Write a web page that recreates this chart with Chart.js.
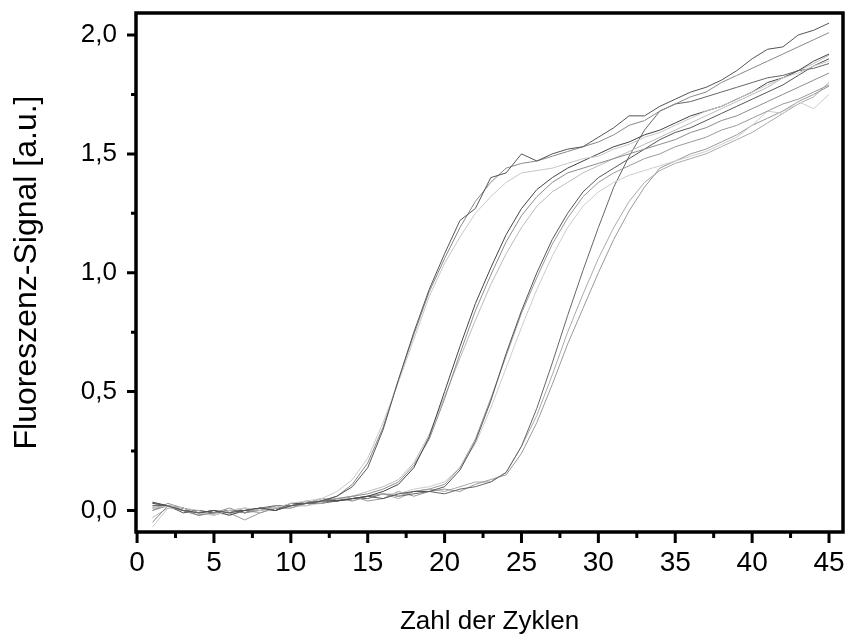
<!DOCTYPE html>
<html>
<head>
<meta charset="utf-8">
<script src="https://cdn.jsdelivr.net/npm/chart.js@4/dist/chart.umd.min.js"></script>
<style>
  body { margin: 0; background: #fff; }
</style>
</head>
<body>
<canvas id="kurven" width="847" height="642"></canvas>
<script>
const zyklen = [1,2,3,4,5,6,7,8,9,10,11,12,13,14,15,16,17,18,19,20,21,22,23,24,25,26,27,28,29,30,31,32,33,34,35,36,37,38,39,40,41,42,43,44,45];

const xTicks = [0, 5, 10, 15, 20, 25, 30, 35, 40, 45];
const xMinor = [2.5, 7.5, 12.5, 17.5, 22.5, 27.5, 32.5, 37.5, 42.5];
const yTicks = [0, 0.5, 1, 1.5, 2];
const yMinor = [0.25, 0.75, 1.25, 1.75];

// Verdünnungsreihe, je drei Replikate
const a1 = [0.03,0.02,0.00,-0.01,0.00,-0.01,0.00,0.01,0.00,0.02,0.03,0.04,0.06,0.10,0.18,0.34,0.55,0.75,0.93,1.08,1.22,1.27,1.40,1.42,1.50,1.47,1.50,1.52,1.53,1.57,1.61,1.66,1.66,1.70,1.73,1.76,1.78,1.81,1.85,1.90,1.94,1.95,2.00,2.02,2.05];
const a2 = [0.01,0.02,0.01,-0.01,-0.02,0.00,0.01,0.00,0.01,0.03,0.04,0.05,0.08,0.13,0.22,0.37,0.54,0.72,0.90,1.04,1.15,1.25,1.32,1.38,1.42,1.43,1.44,1.46,1.48,1.49,1.52,1.54,1.57,1.59,1.62,1.65,1.68,1.70,1.73,1.76,1.79,1.82,1.84,1.87,1.89];
const a3 = [-0.05,0.02,0.00,-0.02,-0.01,0.00,-0.01,0.01,0.01,0.02,0.03,0.04,0.06,0.11,0.20,0.35,0.55,0.74,0.92,1.06,1.19,1.30,1.38,1.44,1.46,1.47,1.49,1.51,1.53,1.55,1.58,1.62,1.64,1.68,1.71,1.74,1.76,1.80,1.83,1.86,1.89,1.92,1.95,1.98,2.01];
const b1 = [0.035,0.02,0.01,-0.01,0.00,-0.02,0.00,0.01,0.00,0.03,0.03,0.04,0.04,0.05,0.06,0.08,0.11,0.18,0.31,0.50,0.69,0.87,1.02,1.16,1.27,1.35,1.40,1.44,1.47,1.50,1.53,1.55,1.58,1.60,1.63,1.66,1.68,1.70,1.73,1.76,1.80,1.82,1.85,1.89,1.92];
const b2 = [0.00,0.02,0.00,-0.02,-0.01,0.01,-0.01,0.00,0.02,0.02,0.04,0.03,0.05,0.06,0.07,0.09,0.12,0.19,0.30,0.47,0.66,0.84,0.99,1.13,1.24,1.32,1.38,1.42,1.44,1.46,1.48,1.50,1.52,1.54,1.56,1.59,1.61,1.64,1.66,1.69,1.72,1.75,1.78,1.81,1.84];
const b3 = [-0.03,0.01,0.01,0.00,-0.02,0.00,0.01,0.00,0.01,0.03,0.03,0.05,0.05,0.06,0.08,0.10,0.13,0.20,0.32,0.48,0.64,0.80,0.95,1.08,1.19,1.28,1.34,1.38,1.42,1.45,1.48,1.51,1.54,1.57,1.60,1.63,1.66,1.69,1.72,1.75,1.78,1.82,1.85,1.88,1.915];
const c1 = [0.02,0.02,-0.01,0.00,-0.01,0.00,0.00,0.01,0.02,0.02,0.03,0.05,0.04,0.05,0.06,0.05,0.07,0.08,0.08,0.10,0.17,0.29,0.46,0.66,0.84,1.00,1.14,1.25,1.34,1.40,1.44,1.48,1.52,1.56,1.59,1.61,1.64,1.67,1.70,1.73,1.76,1.79,1.83,1.87,1.90];
const c2 = [0.03,0.02,0.00,-0.01,0.00,-0.01,0.01,0.00,0.01,0.01,0.03,0.04,0.05,0.04,0.06,0.07,0.06,0.08,0.09,0.11,0.18,0.30,0.47,0.65,0.83,0.98,1.12,1.23,1.32,1.38,1.42,1.45,1.48,1.50,1.53,1.55,1.57,1.60,1.62,1.65,1.68,1.71,1.73,1.76,1.79];
const c3 = [-0.07,0.01,0.00,-0.02,-0.01,-0.02,0.00,0.00,0.01,0.02,0.02,0.03,0.05,0.05,0.06,0.07,0.07,0.09,0.10,0.12,0.18,0.28,0.43,0.60,0.77,0.93,1.07,1.19,1.28,1.34,1.38,1.41,1.43,1.45,1.47,1.49,1.51,1.54,1.57,1.62,1.68,1.67,1.72,1.69,1.75];
const d1 = [0.01,0.02,0.00,0.00,-0.01,0.00,-0.01,0.01,0.00,0.02,0.03,0.03,0.04,0.05,0.05,0.07,0.06,0.07,0.08,0.07,0.09,0.10,0.12,0.16,0.27,0.43,0.62,0.82,1.01,1.19,1.36,1.49,1.60,1.68,1.71,1.72,1.74,1.76,1.78,1.80,1.82,1.83,1.85,1.86,1.88];
const d2 = [0.00,0.03,0.01,-0.01,0.00,-0.01,-0.04,-0.01,0.01,0.02,0.02,0.04,0.04,0.06,0.04,0.05,0.08,0.06,0.08,0.09,0.08,0.11,0.13,0.15,0.24,0.37,0.53,0.70,0.85,1.00,1.14,1.26,1.36,1.44,1.47,1.50,1.52,1.55,1.58,1.62,1.65,1.68,1.72,1.75,1.785];
const d3 = [0.02,0.02,0.00,-0.01,-0.02,0.00,0.00,-0.01,0.01,0.01,0.03,0.03,0.05,0.04,0.06,0.07,0.05,0.08,0.09,0.08,0.10,0.12,0.12,0.16,0.27,0.40,0.57,0.75,0.91,1.06,1.19,1.30,1.38,1.43,1.46,1.48,1.50,1.53,1.56,1.59,1.63,1.67,1.71,1.74,1.80];

const reihen = [a1, a2, a3, b1, b2, b3, c1, c2, c3, d1, d2, d3];
const farben = ['#555','#c8c8c8','#888','#444','#8c8c8c','#bbb','#555','#999','#ccc','#666','#999','#aaa'];

const komma = v => v.toFixed(1).replace('.', ',');
const schrift = "'Liberation Sans', Arial, sans-serif";

// Rahmen und Teilstriche (Haupt- und Nebenstriche nach außen)
const rahmen = {
    id: 'rahmen',
    afterDraw(chart) {
        const {ctx, chartArea: ca, scales} = chart;
        ctx.save();
        ctx.strokeStyle = '#000';
        ctx.lineWidth = 3.5;
        ctx.strokeRect(ca.left, ca.top, ca.right - ca.left, ca.bottom - ca.top);
        ctx.lineWidth = 3;
        ctx.beginPath();
        xTicks.forEach(v => { const p = scales.x.getPixelForValue(v); ctx.moveTo(p, ca.bottom); ctx.lineTo(p, ca.bottom + 11); });
        xMinor.forEach(v => { const p = scales.x.getPixelForValue(v); ctx.moveTo(p, ca.bottom); ctx.lineTo(p, ca.bottom + 6); });
        yTicks.forEach(v => { const p = scales.y.getPixelForValue(v); ctx.moveTo(ca.left, p); ctx.lineTo(ca.left - 9, p); });
        yMinor.forEach(v => { const p = scales.y.getPixelForValue(v); ctx.moveTo(ca.left, p); ctx.lineTo(ca.left - 5, p); });
        ctx.stroke();
        ctx.restore();
    }
};

new Chart(document.getElementById('kurven'), {
    type: 'line',
    data: {
        datasets: reihen.map((werte, i) => ({
            data: werte.map((v, j) => ({x: zyklen[j], y: v})),
            borderColor: farben[i],
            borderWidth: 1,
            pointRadius: 0,
            tension: 0
        }))
    },
    options: {
        responsive: false,
        animation: false,
        layout: { padding: { top: 13, right: 4, left: 0, bottom: 0 } },
        plugins: { legend: { display: false }, tooltip: { enabled: false } },
        scales: {
            x: {
                type: 'linear',
                min: -0.07,
                max: 45.91,
                afterFit: s => { s.height = 110; s.paddingLeft = 0; s.paddingRight = 0; },
                afterBuildTicks: s => { s.ticks = xTicks.map(v => ({value: v})); },
                grid: { display: false, drawTicks: false },
                border: { display: false },
                ticks: {
                    padding: 14,
                    color: '#000',
                    font: { family: schrift, size: 28 },
                    callback: v => String(v)
                },
                title: {
                    display: true,
                    text: 'Zahl der Zyklen',
                    color: '#000',
                    padding: { top: 0, bottom: 5 },
                    font: { family: schrift, size: 26 }
                }
            },
            y: {
                min: -0.0905,
                max: 2.0926,
                afterFit: s => { s.width = 136; s.paddingTop = 0; s.paddingBottom = 0; },
                afterBuildTicks: s => { s.ticks = yTicks.map(v => ({value: v})); },
                grid: { display: false, drawTicks: false },
                border: { display: false },
                ticks: {
                    padding: 19,
                    color: '#000',
                    font: { family: schrift, size: 26 },
                    callback: v => komma(v)
                },
                title: {
                    display: true,
                    text: 'Fluoreszenz-Signal [a.u.]',
                    color: '#000',
                    padding: { top: 8, bottom: 0 },
                    font: { family: schrift, size: 32 }
                }
            }
        }
    },
    plugins: [rahmen]
});
</script>
</body>
</html>
